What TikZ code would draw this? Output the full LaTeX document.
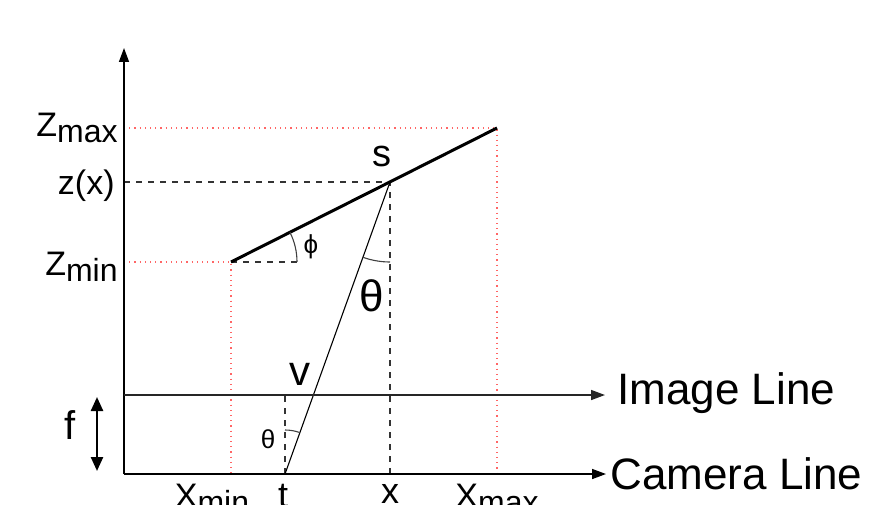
\documentclass[tikz,border=0pt]{standalone}
\usepackage{fontspec}
\setmainfont{Liberation Sans}
\usetikzlibrary{arrows.meta, angles, calc}
\newcommand{\zsub}[2]{{\fontsize{17}{19}\selectfont #1}\raisebox{-3pt}{#2}}

\begin{document}
\begin{tikzpicture}[x=0.5pt, y=0.5pt, font=\fontsize{16}{19}\selectfont,
    axis/.style={-{Triangle[length=7pt, width=5pt]}, line width=0.75pt},
    guide/.style={red!60, dotted, line width=0.6pt},
    proj/.style={dashed, black!80, line width=0.55pt},
    ray/.style={line width=0.55pt},
    lbl/.style={inner sep=0pt}
]
\useasboundingbox (0,0) rectangle (870,504);

% points of the scene
\coordinate (o) at (124,30);
\coordinate (top) at (124,456);
\coordinate (camend) at (606,30);
\coordinate (imgstart) at (124,109);
\coordinate (imgend) at (605,109);
\coordinate (pmin) at (231,242);
\coordinate (pmax) at (497,376);
\coordinate (s) at (390,322);
\coordinate (t) at (285,30);
\coordinate (xb) at (390,30);
\coordinate (tv) at (285,109);
\coordinate (v) at ($(t)!{79/292}!(s)$);
\coordinate (phiend) at (297,242);
\coordinate (zx) at (124,322);
\coordinate (zmaxax) at (124,376);
\coordinate (zminax) at (124,242);
\coordinate (xminb) at (231,30);
\coordinate (xmaxb) at (497,30);
\coordinate (fbot) at (97,33);
\coordinate (ftop) at (97,107);

% guides
\draw[guide] (zmaxax) -- (pmax) -- (xmaxb);
\draw[guide] (zminax) -- (pmin) -- (xminb);
\draw[proj] (zx) -- (s) -- (xb);
\draw[proj] (pmin) -- (phiend);
\draw[proj] (t) -- (tv);

% surface and ray
\draw[line width=1.5pt] (pmin) -- (pmax);
\draw[ray] (t) -- (s);

% axes
\draw[axis] (o) -- (top);
\draw[axis] (o) -- (camend);
\draw[axis, black!85] (imgstart) -- (imgend);
\draw[{Triangle[length=7pt, width=6pt]}-{Triangle[length=7pt, width=6pt]}, line width=1.2pt] (fbot) -- (ftop);

% angles
\pic[draw, black!75, line width=0.55pt, angle radius=33pt] {angle=phiend--pmin--pmax};
\pic[draw, black!75, line width=0.55pt, angle radius=40pt] {angle=t--s--xb};
\pic[draw, black!75, line width=0.55pt, angle radius=22pt] {angle=s--t--tv};

% labels
\node[lbl, anchor=west, font=\fontsize{22}{24}\selectfont] (imglbl) at (617,111) {Image Line};
\node[lbl, anchor=west, font=\fontsize{22}{24}\selectfont] (camlbl) at (610,30) {Camera Line};
\node[lbl, anchor=base east] (zmaxlbl) at (118,367) {\zsub{Z}{max}};
\node[lbl, anchor=base east, font=\fontsize{17}{19}\selectfont] (zxlbl) at (115,310) {z(x)};
\node[lbl, anchor=base east] (zminlbl) at (118,229) {\zsub{Z}{min}};
\node[lbl, anchor=base, font=\fontsize{19}{21}\selectfont] (slbl) at (382,337) {s};
\node[lbl, anchor=base, font=\fontsize{21}{23}\selectfont] (vlbl) at (300,119) {v};
\node[lbl, font=\fontsize{22}{24}\selectfont] (thetalbl) at (372,208) {θ};
\node[lbl, font=\fontsize{13}{15}\selectfont] (philbl) at (311,257) {ϕ};
\node[lbl, font=\fontsize{13}{15}\selectfont] (thetatlbl) at (268,65) {θ};
\node[lbl, font=\fontsize{20}{22}\selectfont] (flbl) at (70,79) {f};
\node[lbl, anchor=north] (xminlbl) at (212,20) {\zsub{X}{min}};
\node[lbl, anchor=north, font=\fontsize{18}{20}\selectfont] (tlbl) at (283,20) {t};
\node[lbl, anchor=north, font=\fontsize{18}{20}\selectfont] (xlbl) at (390,20) {x};
\node[lbl, anchor=north] (xmaxlbl) at (497,20) {\zsub{X}{max}};
\end{tikzpicture}
\end{document}
